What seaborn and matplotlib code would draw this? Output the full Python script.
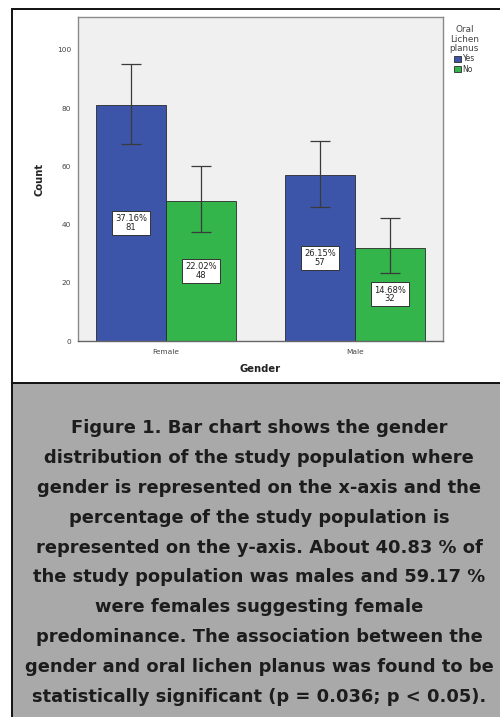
import matplotlib
matplotlib.use("Agg")
import matplotlib.pyplot as plt
from matplotlib.patches import Rectangle
import seaborn as sns
import pandas as pd

# Data
genders = ["Female", "Male"]
olp_levels = ["Yes", "No"]
counts_yes = [81, 57]
counts_no = [48, 32]
pct_yes = ["37.16%", "26.15%"]
pct_no = ["22.02%", "14.68%"]
ci_low_yes = [67.7, 46.0]
ci_high_yes = [95.2, 68.7]
ci_low_no = [37.5, 23.4]
ci_high_no = [60.1, 42.3]
yticks = [0, 20, 40, 60, 80, 100]

caption_lines = [
    "Figure 1. Bar chart shows the gender",
    "distribution of the study population where",
    "gender is represented on the x-axis and the",
    "percentage of the study population is",
    "represented on the y-axis. About 40.83 % of",
    "the study population was males and 59.17 %",
    "were females suggesting female",
    "predominance. The association between the",
    "gender and oral lichen planus was found to be",
    "statistically significant (p = 0.036; p < 0.05).",
]

df = pd.DataFrame({
    "Gender": genders * 2,
    "Oral Lichen planus": ["Yes"] * 2 + ["No"] * 2,
    "Count": counts_yes + counts_no,
})

sns.set_style("white")
plt.rcParams["font.family"] = ["DejaVu Sans"]

W, H = 500, 717
fig = plt.figure(figsize=(W / 100, H / 100), dpi=100)
fig.patch.set_facecolor("white")

def fx(px):
    return px / W

def fy(py):
    return 1 - py / H

# Frames: chart panel and grey caption panel (kept behind the axes)
fig.patches.append(Rectangle((fx(12), fy(730)), fx(520) - fx(12), fy(383) - fy(730),
                             transform=fig.transFigure, facecolor="#a9a9a9",
                             edgecolor="#111111", linewidth=1.4, zorder=-10))
fig.patches.append(Rectangle((fx(12), fy(383)), fx(520) - fx(12), fy(9) - fy(383),
                             transform=fig.transFigure, facecolor="white",
                             edgecolor="#111111", linewidth=1.4, zorder=-10))

ax = fig.add_axes([fx(78), fy(341), fx(443) - fx(78), fy(17) - fy(341)])
ax.set_facecolor("#f0f0f0")

palette = {"Yes": "#3c55a9", "No": "#33b54b"}
sns.barplot(data=df, x="Gender", y="Count", hue="Oral Lichen planus",
            hue_order=olp_levels, order=genders, palette=palette,
            width=0.74, errorbar=None, edgecolor="#2a2a2a", linewidth=0.6,
            saturation=1, ax=ax, zorder=2)

groups = {
    "Yes": (counts_yes, pct_yes, ci_low_yes, ci_high_yes),
    "No": (counts_no, pct_no, ci_low_no, ci_high_no),
}
for level, container in zip(olp_levels, ax.containers):
    vals, pcts, lo, hi = groups[level]
    for bar, v, p, l, h in zip(container.patches, vals, pcts, lo, hi):
        cx = bar.get_x() + bar.get_width() / 2
        ax.errorbar([cx], [v], yerr=[[v - l], [h - v]], fmt="none",
                    ecolor="#3a3a3a", elinewidth=0.9, capsize=7,
                    capthick=0.9, zorder=3)
        ax.text(cx, v / 2, f"{p}\n{v}", ha="center", va="center",
                fontsize=6.0, color="#222222", linespacing=0.9, zorder=4,
                bbox=dict(boxstyle="square,pad=0.4", facecolor="white",
                          edgecolor="#333333", linewidth=0.7))

ax.set_xlim(-0.466, 1.466)
ax.set_ylim(0, 111.3)
ax.set_yticks(yticks)
ax.set_yticklabels([str(t) for t in yticks], fontsize=5.3, color="#444444")
ax.set_xticks([0, 1])
ax.set_xticklabels(genders, fontsize=5.3, color="#444444")
ax.tick_params(axis="y", direction="out", length=4, width=0.8, color="#777777", pad=1)
ax.tick_params(axis="x", direction="out", length=4, width=0.8, color="#555555", pad=2)
for s in ax.spines.values():
    s.set_color("#8a8a8a")
    s.set_linewidth(1.0)
ax.spines["bottom"].set_color("#666666")

ax.set_xlabel("Gender", fontsize=7.2, fontweight="bold", labelpad=6, color="#222222")
ax.set_ylabel("Count", fontsize=7.2, fontweight="bold", labelpad=9, color="#222222")

leg = ax.legend(title="Oral\nLichen\nplanus", loc="upper left",
                bbox_to_anchor=(1.01, 0.985), frameon=False, fontsize=5.5,
                title_fontsize=6.4, handlelength=0.9, handleheight=0.9,
                handletextpad=0.2, labelspacing=0.15, borderaxespad=0)
leg.get_title().set_multialignment("center")
leg.get_title().set_color("#444444")
leg.get_title().set_linespacing(1.1)
for t in leg.get_texts():
    t.set_color("#333333")

# Caption text
for i, line in enumerate(caption_lines):
    fig.text(fx(259), fy(428 + 29.9 * i), line, ha="center", va="center",
             fontsize=12.9, fontweight="bold", color="#1c1c1c")

fig.savefig("out.png", dpi=100)
